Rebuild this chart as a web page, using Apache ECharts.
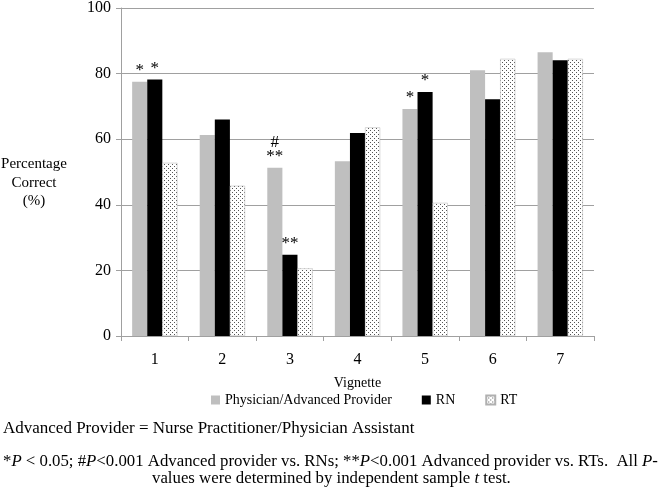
<!DOCTYPE html>
<html><head><meta charset="utf-8">
<script src="https://cdn.jsdelivr.net/npm/echarts@6/dist/echarts.min.js"></script>
<style>html,body{margin:0;padding:0;background:#fff}#c{width:666px;height:490px}</style>
</head><body><div id="c"></div>
<script>
const categories = ['1','2','3','4','5','6','7'];
const physician = [77.5, 61.3, 51.3, 53.3, 69.2, 81.0, 86.5];
const rn        = [78.2, 66.0, 24.8, 61.9, 74.4, 72.2, 84.1];
const rt        = [52.8, 45.8, 20.6, 63.6, 40.6, 84.5, 84.5];
const physicianMarks = ['*', '', '#\n**', '', '*', '', ''];
const rnMarks        = ['*', '', '**', '', '*', '', ''];
const rtMarks        = ['', '', '', '', '', '', ''];
const yTicks = [0, 20, 40, 60, 80, 100];

const FONT = '"Liberation Serif", "Times New Roman", serif';

function dotPattern() {
  const c = document.createElement('canvas');
  c.width = 4; c.height = 4;
  const g = c.getContext('2d');
  g.fillStyle = '#ffffff'; g.fillRect(0, 0, 4, 4);
  g.fillStyle = '#555555';
  g.fillRect(0, 0, 1, 1);
  g.fillRect(2, 2, 1, 1);
  return c;
}
const pat = { image: dotPattern(), repeat: 'repeat' };

function withMarks(values, marks) {
  return values.map((v, i) => ({
    value: v,
    label: { show: marks[i] !== '', formatter: marks[i] }
  }));
}

const labelStyle = {
  position: 'top', distance: 4, color: '#000', fontFamily: FONT, fontSize: 17, lineHeight: 14
};

const chart = echarts.init(document.getElementById('c'), null, { renderer: 'canvas' });
chart.setOption({
  animation: false,
  backgroundColor: '#fff',
  grid: { left: 121, right: 72, top: 3, bottom: 154, containLabel: false },
  legend: {
    data: ['Physician/Advanced Provider', 'RN', 'RT'],
    left: 206, top: 388,
    itemWidth: 9, itemHeight: 9, itemGap: 30,
    icon: 'rect',
    textStyle: { fontFamily: FONT, fontSize: 14, color: '#000' }
  },
  xAxis: {
    type: 'category', data: categories,
    name: 'Vignette', nameLocation: 'middle', nameGap: 40,
    nameTextStyle: { fontFamily: FONT, fontSize: 14, color: '#000' },
    axisLine: { lineStyle: { color: '#a0a0a0', width: 1 } },
    axisTick: { show: true, length: 5, lineStyle: { color: '#a0a0a0' } },
    axisLabel: { fontFamily: FONT, fontSize: 16, color: '#000', margin: 16 }
  },
  yAxis: {
    type: 'value', min: yTicks[0], max: yTicks[yTicks.length - 1], interval: 20,
    axisLine: { show: true, lineStyle: { color: '#a0a0a0', width: 1 } },
    axisTick: { show: true, length: 5, lineStyle: { color: '#a0a0a0' } },
    splitLine: { lineStyle: { color: '#a0a0a0', width: 1 } },
    axisLabel: { fontFamily: FONT, fontSize: 16, color: '#000', margin: 10 }
  },
  graphic: [
    { type: 'text', x: 34, y: 155,
      style: { text: 'Percentage\nCorrect\n(%)', fontFamily: FONT, fontSize: 15, lineHeight: 18.5,
               fill: '#000', textAlign: 'center' } },
    { type: 'text', x: 3, y: 420,
      style: { text: 'Advanced Provider = Nurse Practitioner/Physician Assistant',
               fontFamily: FONT, fontSize: 17, fill: '#000' } },
    { type: 'text', x: 3, y: 453,
      style: {
        text: '*{i|P} < 0.05; #{i|P}<0.001 Advanced provider vs. RNs; **{i|P}<0.001 Advanced provider vs. RTs.  All {i|P}-',
        fontFamily: FONT, fontSize: 16.8, fill: '#000',
        rich: { i: { fontStyle: 'italic', fontFamily: FONT, fontSize: 16.8, fill: '#000' } }
      } },
    { type: 'text', x: 152, y: 470,
      style: {
        text: 'values were determined by independent sample {i|t} test.',
        fontFamily: FONT, fontSize: 16.8, fill: '#000',
        rich: { i: { fontStyle: 'italic', fontFamily: FONT, fontSize: 16.8, fill: '#000' } }
      } }
  ],
  series: [
    { name: 'Physician/Advanced Provider', type: 'bar', barGap: '0%', barCategoryGap: '33%',
      itemStyle: { color: '#bfbfbf' }, label: labelStyle,
      data: withMarks(physician, physicianMarks) },
    { name: 'RN', type: 'bar', barGap: '0%', barCategoryGap: '33%',
      itemStyle: { color: '#000000' }, label: labelStyle,
      data: withMarks(rn, rnMarks) },
    { name: 'RT', type: 'bar', barGap: '0%', barCategoryGap: '33%',
      itemStyle: { color: pat, borderColor: '#b0b0b0', borderWidth: 0.5 }, label: labelStyle,
      data: withMarks(rt, rtMarks) }
  ]
});
</script></body></html>
